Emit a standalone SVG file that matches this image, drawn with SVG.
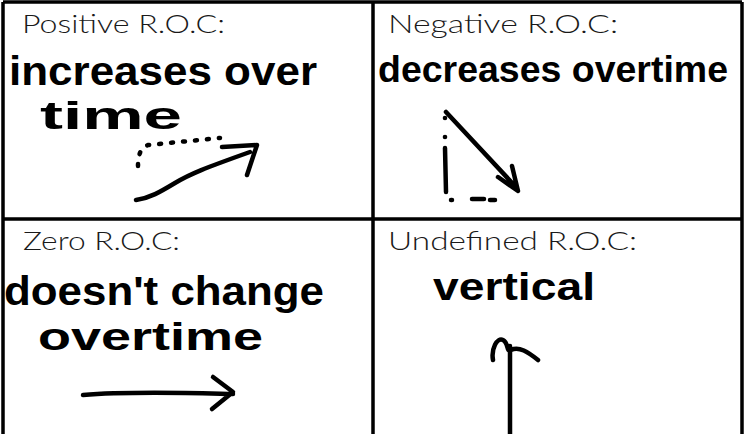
<svg xmlns="http://www.w3.org/2000/svg" width="750" height="434" viewBox="0 0 750 434">
<style>
.hdr{font-family:"Lato","Liberation Sans",sans-serif;font-weight:300;font-size:25px;fill:#1a1a1a}
.hand{font-family:"Liberation Sans","Arial",sans-serif;font-weight:700;fill:#000}
.ink{fill:none;stroke:#000;stroke-width:4.5;stroke-linecap:round;stroke-linejoin:round}
.dots{fill:none;stroke:#000;stroke-width:4.5;stroke-linecap:round;stroke-dasharray:2 10}
.grid{fill:none;stroke:#000;stroke-width:3.5}
</style>
<rect width="750" height="434" fill="#fff"/>
<g id="table-lines">
<path class="grid" d="M3,2 H742 M3,2 V434 M742,2 V434 M373,2 V434 M3,219 H742"/>
</g>
<g id="positive">
<text class="hdr" x="22" y="33" textLength="203" lengthAdjust="spacingAndGlyphs">Positive R.O.C:</text>
<text class="hand" x="9" y="85" font-size="40" textLength="308" lengthAdjust="spacingAndGlyphs">increases over</text>
<text class="hand" x="40" y="129" font-size="38" textLength="142" lengthAdjust="spacingAndGlyphs">time</text>
<path class="dots" d="M138,166 C138,156 140,148 148,145 L220,138"/>
<path class="ink" d="M136,200 C150,198 160,192 175,183 C190,174 205,168 250,152 M222,147 L257,145 L247,175"/>
</g>
<g id="negative">
<text class="hdr" x="388" y="33" textLength="230" lengthAdjust="spacingAndGlyphs">Negative R.O.C:</text>
<text class="hand" x="378" y="82" font-size="37" textLength="350" lengthAdjust="spacingAndGlyphs">decreases overtime</text>
<path class="ink" d="M446,112 L515,186 M498,177 L518,191 L512,166"/>
<circle cx="445" cy="118" r="2.3"/>
<circle cx="445" cy="137" r="2.3"/>
<path class="ink" d="M445,148 L446,192 M451,200 L452,200 M472,199 L484,199 M490,200 L495,200"/>
</g>
<g id="zero">
<text class="hdr" x="23" y="250" textLength="157" lengthAdjust="spacingAndGlyphs">Zero R.O.C:</text>
<text class="hand" x="4" y="305" font-size="40" textLength="320" lengthAdjust="spacingAndGlyphs">doesn't change</text>
<text class="hand" x="38" y="350" font-size="38" textLength="225" lengthAdjust="spacingAndGlyphs">overtime</text>
<path class="ink" d="M83,395 C130,391 190,393 233,394 M213,377 L233,392 L212,409"/>
</g>
<g id="undefined">
<text class="hdr" x="388" y="250" textLength="249" lengthAdjust="spacingAndGlyphs">Undefined R.O.C:</text>
<text class="hand" x="433" y="300" font-size="38" textLength="162" lengthAdjust="spacingAndGlyphs">vertical</text>
<path class="ink" d="M510,434 L510,346 M493,360 C491,349 497,337 503,340 C509,343 506,353 511,350 C519,346 528,352 538,360"/>
</g>
</svg>
